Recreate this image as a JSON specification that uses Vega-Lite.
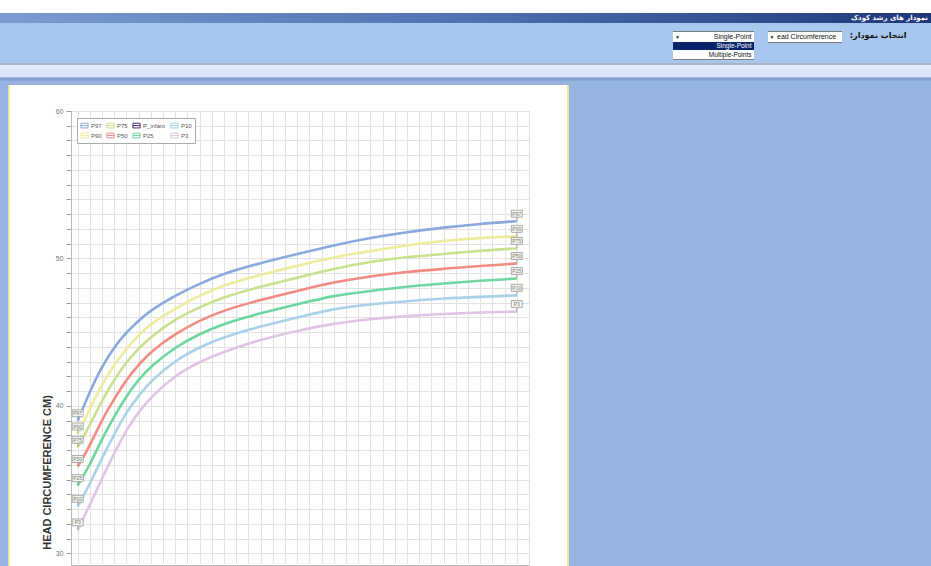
{
  "$schema": "https://vega.github.io/schema/vega-lite/v6.json",
  "background": "white",
  "padding": {"top": 12, "left": 0, "right": 0, "bottom": 0},
  "spacing": 0,
  "config": {"view": {"stroke": null}, "font": "Liberation Sans"},
  "vconcat": [
    {
      "width": 931, "height": 10,
      "data": {"values": [{}]},
      "mark": {"type": "text", "text": ""},
      "view": {"stroke": null, "fill": {"gradient": "linear", "x1": 0, "x2": 1, "y1": 0, "y2": 0, "stops": [{"offset": 0, "color": "#7b9bd0"}, {"offset": 0.5, "color": "#5172b2"}, {"offset": 1, "color": "#1d377a"}]}},
      "title": {"text": "نمودار های رشد کودک", "anchor": "end", "orient": "top", "offset": -9, "fontSize": 7, "font": "DejaVu Sans", "fontWeight": "bold", "color": "white", "dx": -3}
    },
    {
      "spacing": 0,
      "hconcat": [
        {
          "width": 673, "height": 40,
          "data": {"values": [{}]},
          "mark": {"type": "text", "text": ""},
          "view": {"stroke": null, "fill": "#a8c7ee"}
        },
        {
          "width": 81, "height": 40,
          "data": {"values": [{}]},
          "view": {"stroke": null, "fill": {"gradient": "linear", "x1": 0, "x2": 0, "y1": 0, "y2": 1, "stops": [
            {"offset": 0, "color": "#a8c7ee"}, {"offset": 0.2, "color": "#a8c7ee"}, {"offset": 0.2, "color": "#7a7a7a"}, {"offset": 0.225, "color": "#7a7a7a"},
            {"offset": 0.225, "color": "#ffffff"}, {"offset": 0.475, "color": "#ffffff"}, {"offset": 0.475, "color": "#0a246a"}, {"offset": 0.675, "color": "#0a246a"},
            {"offset": 0.675, "color": "#ffffff"}, {"offset": 0.9, "color": "#ffffff"}, {"offset": 0.9, "color": "#7a7a7a"}, {"offset": 0.925, "color": "#7a7a7a"},
            {"offset": 0.925, "color": "#a8c7ee"}, {"offset": 1, "color": "#a8c7ee"}]}},
          "layer": [
            {"mark": {"type": "text", "text": "Single-Point", "align": "right", "baseline": "middle", "dx": 38, "dy": -6.5, "fontSize": 7, "color": "#111111"}},
            {"mark": {"type": "text", "text": "▼", "align": "center", "baseline": "middle", "dx": -36, "dy": -6.5, "fontSize": 5, "color": "#222222"}},
            {"mark": {"type": "text", "text": "Single-Point", "align": "right", "baseline": "middle", "dx": 38, "dy": 3, "fontSize": 6.5, "color": "#ffffff"}},
            {"mark": {"type": "text", "text": "Multiple-Points", "align": "right", "baseline": "middle", "dx": 38, "dy": 11.5, "fontSize": 6.5, "color": "#111111"}}
          ]
        },
        {
          "width": 14, "height": 40,
          "data": {"values": [{}]},
          "mark": {"type": "text", "text": ""},
          "view": {"stroke": null, "fill": "#a8c7ee"}
        },
        {
          "width": 74, "height": 40,
          "data": {"values": [{}]},
          "view": {"stroke": null, "fill": {"gradient": "linear", "x1": 0, "x2": 0, "y1": 0, "y2": 1, "stops": [
            {"offset": 0, "color": "#a8c7ee"}, {"offset": 0.2, "color": "#a8c7ee"}, {"offset": 0.2, "color": "#7a7a7a"}, {"offset": 0.225, "color": "#7a7a7a"},
            {"offset": 0.225, "color": "#ffffff"}, {"offset": 0.475, "color": "#ffffff"}, {"offset": 0.475, "color": "#7a7a7a"}, {"offset": 0.5, "color": "#7a7a7a"},
            {"offset": 0.5, "color": "#a8c7ee"}, {"offset": 1, "color": "#a8c7ee"}]}},
          "layer": [
            {"mark": {"type": "text", "text": "ead Circumference", "align": "left", "baseline": "middle", "dx": -28, "dy": -6.5, "fontSize": 7, "color": "#111111"}},
            {"mark": {"type": "text", "text": "▼", "align": "center", "baseline": "middle", "dx": -33, "dy": -6.5, "fontSize": 5, "color": "#222222"}}
          ]
        },
        {
          "width": 89, "height": 40,
          "data": {"values": [{}]},
          "view": {"stroke": null, "fill": "#a8c7ee"},
          "mark": {"type": "text", "text": "انتخاب نمودار:‏", "align": "right", "baseline": "middle", "dx": 20, "dy": -7, "fontSize": 8, "font": "DejaVu Sans", "fontWeight": "bold", "color": "#111111"}
        }
      ]
    },
    {
      "width": 931, "height": 22,
      "data": {"values": [{}]},
      "mark": {"type": "text", "text": ""},
      "view": {"stroke": null, "fill": {"gradient": "linear", "x1": 0, "x2": 0, "y1": 0, "y2": 1, "stops": [{"offset": 0, "color": "#a6b4c8"}, {"offset": 0.08, "color": "#a6b4c8"}, {"offset": 0.1, "color": "#e6eefa"}, {"offset": 0.65, "color": "#d5e2f4"}, {"offset": 0.665, "color": "#7f9bc8"}, {"offset": 0.815, "color": "#8aa8d6"}, {"offset": 0.82, "color": "#95b3de"}, {"offset": 1, "color": "#95b3de"}]}}
    },
    {
      "spacing": 0,
      "hconcat": [
        {
          "width": 10, "height": 482,
          "data": {"values": [{}]},
          "mark": {"type": "text", "text": ""},
          "view": {"stroke": null, "fill": {"gradient": "linear", "x1": 0, "x2": 1, "y1": 0, "y2": 0, "stops": [{"offset": 0, "color": "#95b3de"}, {"offset": 0.85, "color": "#95b3de"}, {"offset": 0.85, "color": "#eee4a6"}, {"offset": 1, "color": "#eee4a6"}]}}
        },
        {
          "spacing": 0,
          "vconcat": [
            {
              "width": 458, "height": 21,
              "data": {"values": [{}]},
              "mark": {"type": "text", "text": ""},
              "view": {"stroke": null}
            },
            {
              "width": 458, "height": 454,
              "view": {"fill": "white", "stroke": "#bbbbbb"},
              "data": {"values": [
                {"m": 0, "P97": 39.0, "P90": 38.1, "P75": 37.2, "P50": 35.9, "P25": 34.6, "P10": 33.2, "P3": 31.6},
                {"m": 1, "P97": 41.0, "P90": 39.8, "P75": 38.7, "P50": 37.3, "P25": 36.0, "P10": 34.7, "P3": 33.3},
                {"m": 2, "P97": 42.7, "P90": 41.5, "P75": 40.4, "P50": 39.1, "P25": 37.8, "P10": 36.5, "P3": 35.1},
                {"m": 3, "P97": 44.0, "P90": 42.8, "P75": 41.8, "P50": 40.5, "P25": 39.3, "P10": 38.1, "P3": 36.8},
                {"m": 4, "P97": 45.0, "P90": 43.9, "P75": 43.0, "P50": 41.8, "P25": 40.7, "P10": 39.6, "P3": 38.4},
                {"m": 5, "P97": 45.8, "P90": 44.8, "P75": 43.9, "P50": 42.8, "P25": 41.8, "P10": 40.7, "P3": 39.6},
                {"m": 6, "P97": 46.5, "P90": 45.6, "P75": 44.7, "P50": 43.7, "P25": 42.7, "P10": 41.7, "P3": 40.6},
                {"m": 8, "P97": 47.5, "P90": 46.6, "P75": 45.9, "P50": 44.9, "P25": 44.0, "P10": 43.1, "P3": 42.1},
                {"m": 10, "P97": 48.3, "P90": 47.5, "P75": 46.7, "P50": 45.8, "P25": 44.9, "P10": 44.0, "P3": 43.0},
                {"m": 12, "P97": 49.0, "P90": 48.2, "P75": 47.4, "P50": 46.5, "P25": 45.6, "P10": 44.7, "P3": 43.7},
                {"m": 15, "P97": 49.7, "P90": 48.9, "P75": 48.1, "P50": 47.2, "P25": 46.3, "P10": 45.4, "P3": 44.5},
                {"m": 18, "P97": 50.3, "P90": 49.5, "P75": 48.7, "P50": 47.8, "P25": 46.9, "P10": 46.0, "P3": 45.1},
                {"m": 21, "P97": 50.9, "P90": 50.1, "P75": 49.3, "P50": 48.4, "P25": 47.5, "P10": 46.6, "P3": 45.6},
                {"m": 24, "P97": 51.4, "P90": 50.5, "P75": 49.8, "P50": 48.8, "P25": 47.8, "P10": 46.9, "P3": 45.9},
                {"m": 27, "P97": 51.8, "P90": 50.9, "P75": 50.1, "P50": 49.1, "P25": 48.1, "P10": 47.1, "P3": 46.1},
                {"m": 30, "P97": 52.1, "P90": 51.2, "P75": 50.3, "P50": 49.3, "P25": 48.3, "P10": 47.3, "P3": 46.25},
                {"m": 33, "P97": 52.35, "P90": 51.4, "P75": 50.55, "P50": 49.5, "P25": 48.5, "P10": 47.4, "P3": 46.35},
                {"m": 36, "P97": 52.53, "P90": 51.5, "P75": 50.68, "P50": 49.66, "P25": 48.64, "P10": 47.5, "P3": 46.4}
              ]},
              "transform": [{"fold": ["P97", "P90", "P75", "P50", "P25", "P10", "P3"], "as": ["pct", "hc"]}],
              "encoding": {
                "x": {
                  "field": "m", "type": "quantitative",
                  "scale": {"domain": [-0.55, 37], "nice": false, "zero": false},
                  "axis": {"title": null, "values": [0,1,2,3,4,5,6,7,8,9,10,11,12,13,14,15,16,17,18,19,20,21,22,23,24,25,26,27,28,29,30,31,32,33,34,35,36,37], "labels": false, "ticks": false, "domain": false, "grid": true, "gridColor": "#e2e2e2", "minExtent": 0, "maxExtent": 0}
                },
                "y": {
                  "field": "hc", "type": "quantitative",
                  "scale": {"domain": [29.22, 60], "nice": false, "zero": false},
                  "axis": {
                    "title": "HEAD CIRCUMFERENCE CM)",
                    "values": [30,31,32,33,34,35,36,37,38,39,40,41,42,43,44,45,46,47,48,49,50,51,52,53,54,55,56,57,58,59,60],
                    "labelExpr": "datum.value % 10 === 0 ? datum.label : ''",
                    "grid": true, "gridColor": "#e2e2e2",
                    "tickSize": 5, "tickColor": "#9a9a9a", "domainColor": "#bbbbbb",
                    "labelFontSize": 7, "labelColor": "#777777", "labelPadding": 3,
                    "titleFontSize": 11, "titleFontWeight": "bold", "titleColor": "#333333", "titleFont": "Liberation Sans",
                    "titleX": -24, "titleY": 361, "titleAngle": -90, "titleAlign": "center", "titleBaseline": "middle",
                    "minExtent": 60, "maxExtent": 60
                  }
                }
              },
              "layer": [
                {
                  "mark": {"type": "line", "interpolate": "basis", "strokeWidth": 2.6},
                  "encoding": {
                    "color": {
                      "field": "pct", "type": "nominal",
                      "scale": {
                        "domain": ["P97", "P90", "P75", "P50", "P_infant", "P25", "P10", "P3"],
                        "range": ["#8aa9dc", "#eeec9e", "#c9e08e", "#f28c82", "#4b2c6e", "#6fd6a0", "#a9d1e8", "#dfc4e3"]
                      },
                      "legend": {
                        "title": null, "orient": "none", "legendX": 77, "legendY": 105, "columns": 4,
                        "symbolType": "M-1,-0.65H1V0.65H-1Z M-1,0H1", "symbolSize": 52, "symbolStrokeWidth": 1,
                        "labelFontSize": 6, "labelColor": "#555555", "labelFont": "Liberation Sans",
                        "fillColor": "white", "strokeColor": "#aaaaaa", "padding": 3,
                        "columnPadding": 2, "rowPadding": 1, "labelOffset": 2, "labelLimit": 60
                      }
                    }
                  }
                },
                {
                  "transform": [{"filter": "datum.m == 0 || datum.m == 36"}],
                  "mark": {"type": "point", "shape": "M-1,-2H1V-0.73H-1Z M0,-0.73V0", "size": 121, "filled": true, "fill": "#f3f3ef", "stroke": "#999999", "strokeWidth": 0.8, "opacity": 1}
                },
                {
                  "transform": [{"filter": "datum.m == 0 || datum.m == 36"}],
                  "mark": {"type": "text", "dy": -7.5, "fontSize": 5, "color": "#777777"},
                  "encoding": {"text": {"field": "pct"}}
                }
              ]
            }
          ]
        },
        {
          "width": 39, "height": 482,
          "data": {"values": [{}]},
          "mark": {"type": "text", "text": ""},
          "view": {"stroke": null, "fill": {"gradient": "linear", "x1": 0, "x2": 1, "y1": 0, "y2": 0, "stops": [{"offset": 0, "color": "#ffffff"}, {"offset": 0.95, "color": "#ffffff"}, {"offset": 0.95, "color": "#eee4a6"}, {"offset": 1, "color": "#eee4a6"}]}}
        },
        {
          "width": 364, "height": 482,
          "data": {"values": [{}]},
          "mark": {"type": "text", "text": ""},
          "view": {"stroke": null, "fill": "#95b3de"}
        }
      ]
    }
  ]
}
